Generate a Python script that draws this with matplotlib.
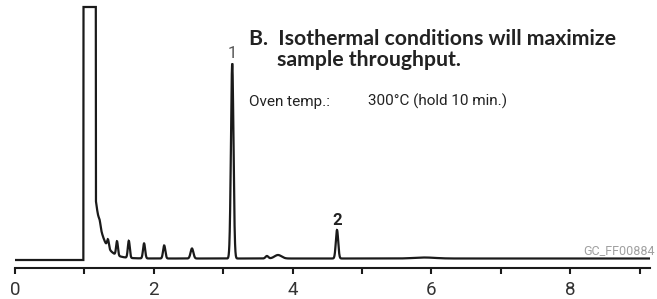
import numpy as np
from matplotlib import pyplot as plt
from matplotlib import font_manager as fm

# retention times (min), heights and widths of the peaks
peak_times = [1.22, 1.34, 1.47, 1.64, 1.86, 2.15, 2.55, 3.13, 3.63, 3.79, 4.64, 5.9]
peak_heights = [4, 8, 14, 17, 15, 13, 10, 195, 2.5, 3.5, 28.5, 1]
peak_widths = [0.012, 0.013, 0.013, 0.014, 0.015, 0.016, 0.02, 0.018, 0.02, 0.05, 0.017, 0.15]

# solvent front (detector saturated), then its tail
solvent_start = 0.985
solvent_end = 1.165
solvent_top = 253
tail_amp = 58
tail_tau = 0.106
baseline_shift = 1.5

labelled_peaks = ['1', '2']
labelled_times = [3.13, 4.64]

xticks = list(range(10))
xtick_labels = ['0', '', '2', '', '4', '', '6', '', '8', '']

title_lines = ['B.  Isothermal conditions will maximize', 'sample throughput.']
oven_label = 'Oven temp.:'
oven_value = '300°C (hold 10 min.)'
figure_code = 'GC_FF00884'


def pick(*names):
    for name in names:
        try:
            fm.findfont(fm.FontProperties(family=name), fallback_to_default=False)
            return name
        except Exception:
            pass
    return 'DejaVu Sans'


narrow = pick('Liberation Sans Narrow', 'Roboto', 'Liberation Sans')
bold = pick('Lato', 'Open Sans', 'DejaVu Sans')

W, H = 657, 299
fig = plt.figure(figsize=(W / 100, H / 100), dpi=100)


def px(x, y):
    return x / W, 1 - y / H


t = np.linspace(0, 9.15, 8000)
sig = np.where((t >= solvent_start) & (t <= solvent_end), solvent_top, 0.0)
sig += np.where(t > solvent_end, tail_amp * np.exp(-(t - solvent_end) / tail_tau) + baseline_shift, 0.0)
for rt, h, w in zip(peak_times, peak_heights, peak_widths):
    sig += h * np.exp(-0.5 * ((t - rt) / w) ** 2)
sig = np.minimum(sig, solvent_top)

ax = fig.add_axes([15 / W, 31 / H, 635 / W, 268 / H])
ax.plot(t, sig, color='#1a1a1a', lw=1.6, solid_joinstyle='miter')
ax.set_xlim(0, 9.15)
ax.set_ylim(-8, 260)
for s in ['left', 'right', 'top']:
    ax.spines[s].set_visible(False)
ax.spines['bottom'].set_linewidth(1.5)
ax.spines['bottom'].set_color('#1a1a1a')
ax.set_yticks([])
ax.set_xticks(xticks)
ax.set_xticklabels(xtick_labels, family=narrow, fontsize=13.5, color='#333333')
ax.tick_params(axis='x', length=4, width=1.5, color='#1a1a1a', pad=5.5)

for lab, rt in zip(labelled_peaks, labelled_times):
    top = np.interp(rt, t, sig)
    ax.annotate(lab, (rt, top), xytext=(0, 1.5), textcoords='offset points',
                ha='center', va='bottom', fontsize=12, family=narrow,
                color='#555555' if lab == '1' else '#222222',
                fontweight='normal' if lab == '1' else 'bold')

fig.text(*px(249, 45), title_lines[0], family=bold, fontweight='bold',
         fontsize=15.3, color='#222222', va='baseline')
fig.text(*px(277, 66), title_lines[1], family=bold, fontweight='bold',
         fontsize=15.3, color='#222222', va='baseline')
fig.text(*px(249, 106), oven_label, family=narrow, fontsize=11,
         color='#222222', va='baseline')
fig.text(*px(368, 106), oven_value, family=narrow, fontsize=11,
         color='#222222', va='baseline')
fig.text(*px(583, 254), figure_code, family=narrow, fontsize=9,
         color='#a0a0a0', va='baseline')

fig.savefig('out.png', dpi=100)
